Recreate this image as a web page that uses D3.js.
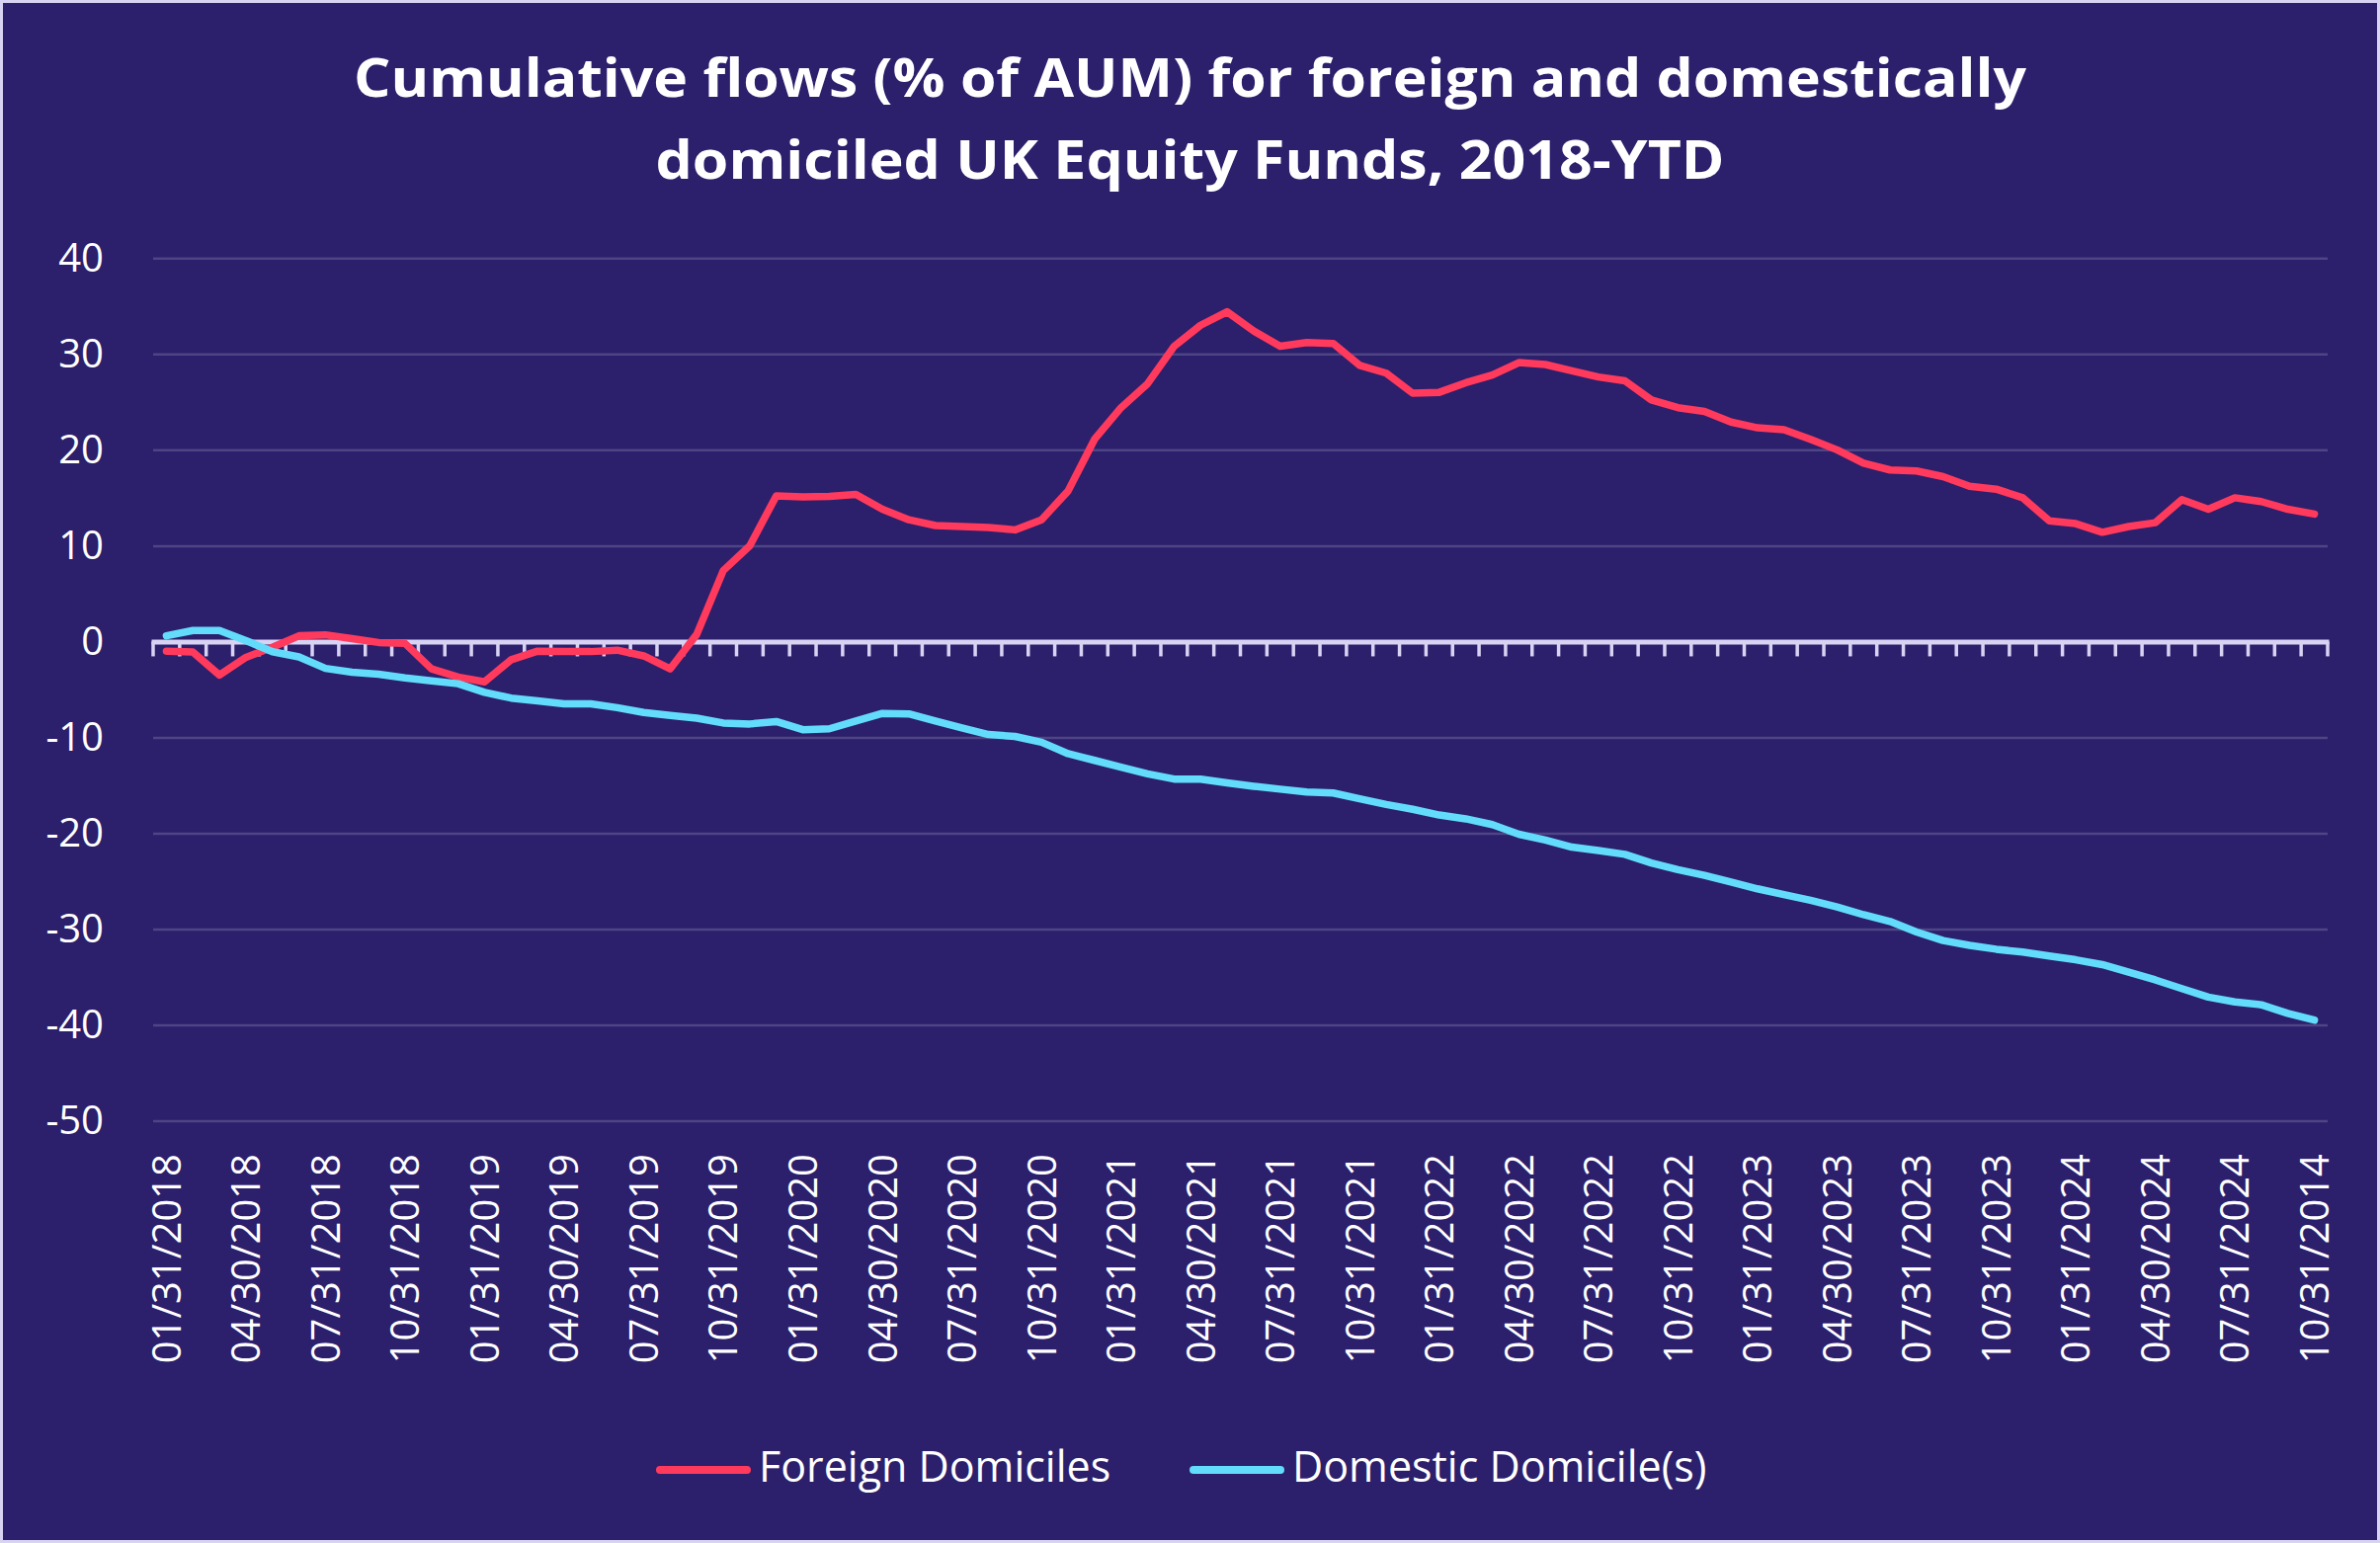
<!DOCTYPE html>
<html>
<head>
<meta charset="utf-8">
<script src="https://cdn.jsdelivr.net/npm/d3@7"></script>
<style>
  html, body { margin: 0; padding: 0; background: #d8d3f3; }
  svg { display: block; }
</style>
</head>
<body>
<svg id="chart" width="2409" height="1562"></svg>
<script>
// ---------------- DATA ----------------
const categories = [
  "01/31/2018","02/28/2018","03/31/2018","04/30/2018","05/31/2018","06/30/2018","07/31/2018","08/31/2018","09/30/2018","10/31/2018","11/30/2018","12/31/2018",
  "01/31/2019","02/28/2019","03/31/2019","04/30/2019","05/31/2019","06/30/2019","07/31/2019","08/31/2019","09/30/2019","10/31/2019","11/30/2019","12/31/2019",
  "01/31/2020","02/29/2020","03/31/2020","04/30/2020","05/31/2020","06/30/2020","07/31/2020","08/31/2020","09/30/2020","10/31/2020","11/30/2020","12/31/2020",
  "01/31/2021","02/28/2021","03/31/2021","04/30/2021","05/31/2021","06/30/2021","07/31/2021","08/31/2021","09/30/2021","10/31/2021","11/30/2021","12/31/2021",
  "01/31/2022","02/28/2022","03/31/2022","04/30/2022","05/31/2022","06/30/2022","07/31/2022","08/31/2022","09/30/2022","10/31/2022","11/30/2022","12/31/2022",
  "01/31/2023","02/28/2023","03/31/2023","04/30/2023","05/31/2023","06/30/2023","07/31/2023","08/31/2023","09/30/2023","10/31/2023","11/30/2023","12/31/2023",
  "01/31/2024","02/29/2024","03/31/2024","04/30/2024","05/31/2024","06/30/2024","07/31/2024","08/31/2024","09/30/2024","10/31/2014"
];

const xTickLabels = [
  "01/31/2018","04/30/2018","07/31/2018","10/31/2018",
  "01/31/2019","04/30/2019","07/31/2019","10/31/2019",
  "01/31/2020","04/30/2020","07/31/2020","10/31/2020",
  "01/31/2021","04/30/2021","07/31/2021","10/31/2021",
  "01/31/2022","04/30/2022","07/31/2022","10/31/2022",
  "01/31/2023","04/30/2023","07/31/2023","10/31/2023",
  "01/31/2024","04/30/2024","07/31/2024","10/31/2014"
];

const yTickValues = [40, 30, 20, 10, 0, -10, -20, -30, -40, -50];
const yTickLabels = ["40", "30", "20", "10", "0", "-10", "-20", "-30", "-40", "-50"];

const foreignDomiciles = [
  -1.0, -1.1, -3.5, -1.65, -0.6, 0.6, 0.7, 0.3, -0.1, -0.2,
  -2.85, -3.7, -4.2, -1.9, -1.0, -1.05, -1.05, -0.9, -1.5, -2.85,
  0.75, 7.4, 10.0, 15.2, 15.1, 15.15, 15.35, 13.8, 12.7, 12.1,
  12.0, 11.9, 11.65, 12.7, 15.7, 21.1, 24.4, 26.9, 30.8, 33.0,
  34.4, 32.4, 30.8, 31.2, 31.1, 28.8, 28.0, 25.9, 26.0, 27.0,
  27.8, 29.1, 28.9, 28.25, 27.6, 27.2, 25.2, 24.4, 24.0, 22.9,
  22.3, 22.1, 21.1, 20.0, 18.6, 17.9, 17.8, 17.2, 16.2, 15.9,
  15.0, 12.6, 12.3, 11.4, 12.0, 12.4, 14.8, 13.8, 15.0, 14.6,
  13.8, 13.3
];

const domesticDomiciles = [
  0.6, 1.15, 1.15, 0.1, -1.06, -1.6, -2.8, -3.2, -3.4, -3.8,
  -4.1, -4.4, -5.3, -5.9, -6.2, -6.5, -6.5, -6.9, -7.4, -7.7,
  -8.0, -8.5, -8.6, -8.35, -9.2, -9.1, -8.3, -7.5, -7.55, -8.3,
  -9.0, -9.7, -9.9, -10.5, -11.7, -12.4, -13.1, -13.8, -14.35, -14.35,
  -14.75, -15.1, -15.4, -15.7, -15.8, -16.4, -17.0, -17.5, -18.1, -18.5,
  -19.1, -20.1, -20.7, -21.45, -21.8, -22.2, -23.1, -23.8, -24.4, -25.1,
  -25.8, -26.4, -27.0, -27.7, -28.5, -29.2, -30.3, -31.2, -31.7, -32.1,
  -32.4, -32.8, -33.2, -33.7, -34.5, -35.3, -36.2, -37.1, -37.6, -37.9,
  -38.8, -39.5
];

const seriesNames = ["Foreign Domiciles", "Domestic Domicile(s)"];
const titleLines = [
  "Cumulative flows (% of AUM) for foreign and domestically",
  "domiciled UK Equity Funds, 2018-YTD"
];

// ---------------- STYLE / LAYOUT ----------------
const W = 2409, H = 1562;
const colors = { bg: "#2c1f6c", border: "#d8d3f3", grid: "#4e4584", axis: "#d9d3f3",
                 text: "#ffffff", foreign: "#ff3a5c", domestic: "#62dcfa" };
const plot = { left: 155, right: 2356, top: 261.3, bottom: 1134.6 };
const FONT = "'Open Sans', 'Noto Sans', sans-serif";

const svg = d3.select("#chart");
svg.append("rect").attr("width", W).attr("height", H).attr("fill", colors.border);
svg.append("rect").attr("x", 3).attr("y", 3).attr("width", W - 6).attr("height", H - 6).attr("fill", colors.bg);

// Title
svg.append("g").selectAll("text").data(titleLines).join("text")
  .attr("x", W / 2)
  .attr("y", (d, i) => 98 + i * 83)
  .attr("text-anchor", "middle")
  .attr("fill", colors.text)
  .style("font-family", FONT)
  .style("font-weight", 700)
  .style("font-size", "54px")
  .attr("textLength", (d, i) => i === 0 ? 1693 : 1082)
  .attr("lengthAdjust", "spacingAndGlyphs")
  .text(d => d);

// Scales
const x = d3.scaleBand().domain(categories).range([plot.left, plot.right]).padding(0);
const y = d3.scaleLinear().domain([-50, 40]).range([plot.bottom, plot.top]);
const cx = d => x(d) + x.bandwidth() / 2;

// Gridlines + y labels
const yAxis = d3.axisLeft(y)
  .tickValues(yTickValues)
  .tickFormat((d, i) => yTickLabels[i])
  .tickSize(-(plot.right - plot.left))
  .tickPadding(50);
const gy = svg.append("g").attr("transform", `translate(${plot.left},0)`).call(yAxis);
gy.select(".domain").remove();
gy.selectAll(".tick line").attr("stroke", colors.grid).attr("stroke-width", 2.5);
gy.selectAll(".tick text")
  .attr("fill", colors.text)
  .style("font-family", FONT)
  .style("font-size", "40px")
  .style("font-weight", 400);

// Zero axis line with monthly ticks at category boundaries
const edges = categories.map(d => x(d)).concat([x(categories[categories.length - 1]) + x.step()]);
const y0 = y(0);
const gz = svg.append("g");
gz.selectAll("line.tk").data(edges).join("line")
  .attr("class", "tk")
  .attr("x1", d => d).attr("x2", d => d)
  .attr("y1", y0).attr("y2", y0 + 15)
  .attr("stroke", colors.axis).attr("stroke-width", 3.5);
gz.append("line")
  .attr("x1", plot.left - 1.5).attr("x2", plot.right + 1.5)
  .attr("y1", y0 + 0.5).attr("y2", y0 + 0.5)
  .attr("stroke", colors.axis).attr("stroke-width", 5);

// X labels (rotated)
const xAxis = d3.axisBottom(x).tickValues(xTickLabels).tickSize(0);
const gx = svg.append("g").attr("transform", "translate(0,1168)").call(xAxis);
gx.select(".domain").remove();
gx.selectAll(".tick text")
  .attr("x", 0).attr("y", 0).attr("dy", "0.36em")
  .attr("transform", "rotate(-90)")
  .attr("text-anchor", "end")
  .attr("fill", colors.text)
  .style("font-family", FONT)
  .style("font-size", "40px")
  .style("font-weight", 400);

// Lines
const line = d3.line().x((d, i) => cx(categories[i])).y(d => y(d));
const series = [
  { name: seriesNames[0], values: foreignDomiciles, color: colors.foreign },
  { name: seriesNames[1], values: domesticDomiciles, color: colors.domestic }
];
svg.append("g").selectAll("path").data(series).join("path")
  .attr("d", s => line(s.values))
  .attr("fill", "none")
  .attr("stroke", s => s.color)
  .attr("stroke-width", 7.5)
  .attr("stroke-linejoin", "round")
  .attr("stroke-linecap", "round");

// Legend
const legendX = [664, 1204];
const lg = svg.append("g").selectAll("g").data(series).join("g")
  .attr("transform", (d, i) => `translate(${legendX[i]},1488)`);
lg.append("line").attr("x1", 4).attr("x2", 92).attr("y1", 0).attr("y2", 0)
  .attr("stroke", d => d.color).attr("stroke-width", 8).attr("stroke-linecap", "round");
lg.append("text").attr("x", 104).attr("y", 12)
  .attr("fill", colors.text)
  .style("font-family", FONT)
  .style("font-size", "43px")
  .style("font-weight", 400)
  .text(d => d.name);
</script>
</body>
</html>
